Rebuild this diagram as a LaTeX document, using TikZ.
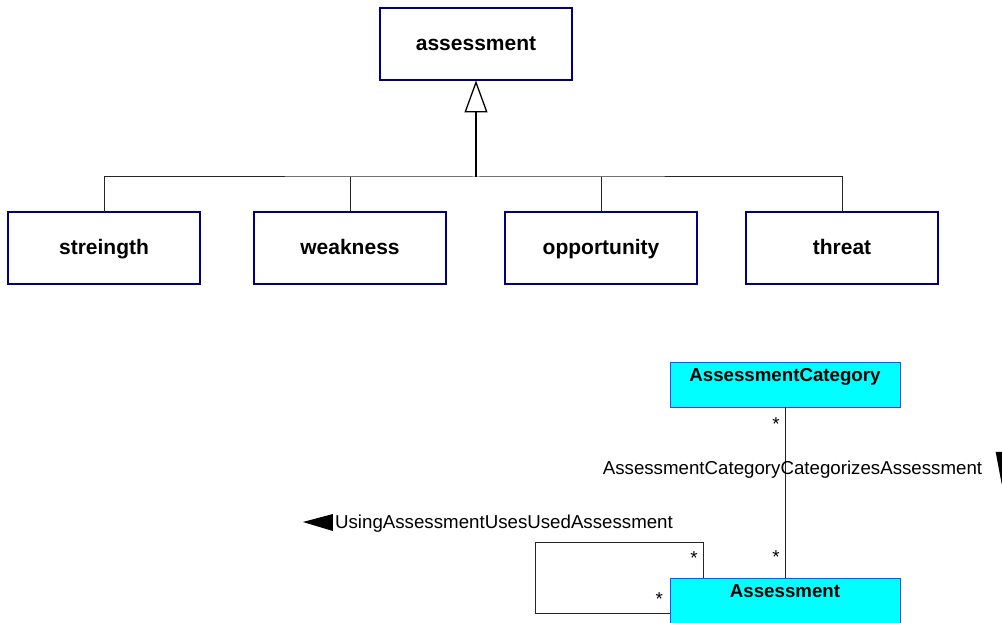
\documentclass[tikz,border=0pt]{standalone}
\usepackage{fontspec}
\setmainfont{Liberation Sans}
\usetikzlibrary{positioning,arrows.meta}

\definecolor{classline}{RGB}{0,0,128}
\definecolor{cyanline}{RGB}{64,64,255}
\definecolor{entityfill}{RGB}{0,255,255}

\begin{document}
\begin{tikzpicture}
  [x=1pt,y=-1pt,
   kind/.style={rectangle,draw=classline,line width=2pt,fill=white,minimum width=192pt,minimum height=72pt,outer sep=0pt,inner sep=0pt,text height=15pt,text depth=2pt,font=\fontsize{21}{25}\selectfont\bfseries},
   entity/.style={rectangle,draw=cyanline,line width=1pt,fill=entityfill,minimum width=230pt,anchor=north,outer sep=0pt,inner xsep=0pt,inner ysep=4pt,text height=15pt,text depth=22pt,font=\fontsize{18.7}{22}\selectfont\bfseries},
   role/.style={inner sep=0pt,font=\fontsize{18.7}{22}\selectfont},
   link/.style={draw=black!85,line width=1pt}]
  \useasboundingbox (0,0) rectangle (1002,623);
  \clip (0,0) rectangle (1002,623);

  % generalization
  \node [kind] (assess) at (476,44.5) {assessment};
  \node [kind] (streng) at (104,248) {streingth};
  \node [kind] (weak) [right=54pt of streng] {weakness};
  \node [kind] (opp) [right=59pt of weak] {opportunity};
  \node [kind] (threat) [right=49pt of opp] {threat};

  \coordinate (bar) at (476,177);
  \draw [link] (streng.north) |- (bar) -| (threat.north);
  \draw [link] (weak.north) -- (weak.north |- bar);
  \draw [link] (opp.north) -- (opp.north |- bar);
  \draw [line width=1.3pt,-{Triangle[open,length=32pt,width=23pt]}] (bar) -- (assess.south);

  % associations
  \node [entity] (cat) at (785,362) {AssessmentCategory};
  \node [entity] (asm) at (785,578) {Assessment};

  \draw [link] (cat) -- node[role,pos=0.1,xshift=-9pt]{*}
    node[role,pos=0.368,xshift=7.5pt] (catlbl) {AssessmentCategoryCategorizesAssessment}
    node[role,pos=0.88,xshift=-9pt]{*} (asm);
  \fill ([shift={(13,-18)}]catlbl.east) -- ([shift={(30,-18)}]catlbl.east) -- ([shift={(19,14)}]catlbl.east) -- cycle;

  \draw [link] ([xshift=33pt]asm.north west) -- node[role,pos=0.56,xshift=-9pt]{*} ++(0,-36)
    -- ++(-168,0) -- ++(0,71) -- node[role,pos=0.92,yshift=14pt]{*} ([yshift=-35pt]asm.north west);
  \node [role] (uselbl) at (504,524) {UsingAssessmentUsesUsedAssessment};
  \fill ([shift={(-32,-2)}]uselbl.west) -- ([shift={(-2,-10)}]uselbl.west) -- ([shift={(-2,7)}]uselbl.west) -- cycle;
\end{tikzpicture}
\end{document}
